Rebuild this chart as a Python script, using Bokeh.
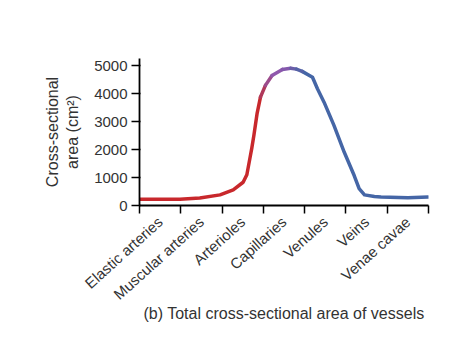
from bokeh.plotting import figure
from bokeh.models import FixedTicker, Range1d
from bokeh.embed import file_html
from bokeh.resources import INLINE
import math

categories = ["Elastic arteries", "Muscular arteries", "Arterioles", "Capillaries",
              "Venules", "Veins", "Venae cavae"]
y_ticks = [0, 1000, 2000, 3000, 4000, 5000]
caption = "(b) Total cross-sectional area of vessels"

# curve (x in category units, 0..7 = boundaries)
red_x = [0.0, 0.5, 0.98, 1.46, 1.95, 2.27, 2.51, 2.60, 2.67, 2.72, 2.77, 2.85, 2.93]
red_y = [220, 220, 225, 270, 380, 560, 830, 1100, 1650, 2050, 2500, 3300, 3870]
purple_x = [2.93, 3.05, 3.21, 3.46, 3.66, 3.80, 3.94]
purple_y = [3870, 4290, 4640, 4860, 4900, 4870, 4790]
blue_x = [3.94, 4.19, 4.31, 4.47, 4.71, 4.96, 5.20, 5.32, 5.45, 5.69, 5.85, 6.50, 6.99]
blue_y = [4790, 4580, 4170, 3690, 2860, 1900, 1070, 600, 380, 320, 300, 275, 300]

RED, BLUE = "#c8282c", "#4566a6"
# colour blend along the purple stretch (red -> purple -> blue)
purple_cols = ["#b0385a", "#9c4c8c", "#9058ac", "#8458ac", "#6a5ea8", "#5562a7"]

FONT = "Liberation Sans"

p = figure(width=469, height=337, output_backend="svg", toolbar_location=None,
           x_range=Range1d(0, 7.0), y_range=Range1d(0, 5250),
           min_border_left=139, min_border_right=41, min_border_top=58,
           min_border_bottom=132)
p.outline_line_color = None
p.xgrid.grid_line_color = None
p.ygrid.grid_line_color = None
p.background_fill_color = "white"
p.border_fill_color = "white"

p.line(red_x, red_y, line_color=RED, line_width=3.5, line_join="round", line_cap="round")
p.line(blue_x, blue_y, line_color=BLUE, line_width=3.5, line_join="round", line_cap="round")
p.segment(x0=purple_x[:-1], y0=purple_y[:-1], x1=purple_x[1:], y1=purple_y[1:],
          line_color=purple_cols, line_width=3.5, line_cap="round")

# x axis: labels centred between boundary ticks
xa = p.xaxis[0]
xa.ticker = FixedTicker(ticks=[i + 0.5 for i in range(len(categories))],
                        minor_ticks=list(range(len(categories) + 1)))
xa.major_label_overrides = {i + 0.5: c for i, c in enumerate(categories)}
xa.major_tick_line_color = None
xa.minor_tick_line_color = "black"
xa.minor_tick_line_width = 1.5
xa.minor_tick_out = 8
xa.minor_tick_in = 0
xa.axis_line_width = 1.8
xa.major_label_orientation = math.radians(42)
xa.major_label_text_font = FONT
xa.major_label_text_font_size = "15px"
xa.major_label_text_color = "#333333"
xa.major_label_standoff = 6
xa.axis_label = caption
xa.axis_label_text_font = FONT
xa.axis_label_text_font_size = "16px"
xa.axis_label_text_font_style = "normal"
xa.axis_label_text_color = "#333333"
xa.axis_label_standoff = -7

ya = p.yaxis[0]
ya.ticker = FixedTicker(ticks=y_ticks, minor_ticks=[])
ya.axis_line_width = 1.8
ya.major_tick_line_width = 1.5
ya.major_tick_out = 8
ya.major_tick_in = 1
ya.major_label_text_font = FONT
ya.major_label_text_font_size = "15px"
ya.major_label_text_color = "#333333"
ya.major_label_standoff = 4
ya.axis_label = "Cross-sectional\narea (cm²)"
ya.axis_label_text_font = FONT
ya.axis_label_text_font_size = "16px"
ya.axis_label_text_font_style = "normal"
ya.axis_label_text_color = "#333333"
ya.axis_label_standoff = 10

open("out.html", "w").write(file_html(p, INLINE))
